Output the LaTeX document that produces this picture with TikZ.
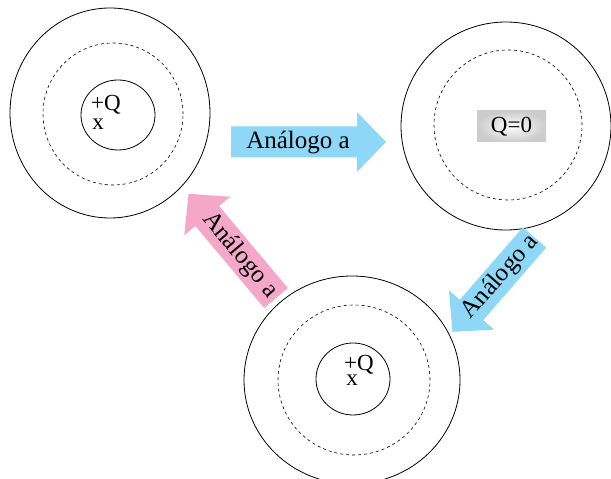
\documentclass[tikz,border=0pt]{standalone}
\usepackage{fontspec}
\setmainfont{Liberation Serif}
\usetikzlibrary{shapes.geometric}
\definecolor{arrblue}{RGB}{143,215,246}
\definecolor{arrpink}{RGB}{244,167,200}
\tikzset{
  ring/.style={ellipse, draw=black, line width=0.8pt, inner sep=0pt},
  dashring/.style={ellipse, draw=black, dashed, line width=0.6pt, inner sep=0pt},
  lbl/.style={font=\fontsize{23}{23}\selectfont, inner sep=0pt},
  arrlbl/.style={font=\fontsize{25}{25}\selectfont, inner sep=0pt},
}
\newcommand{\fatarrow}[4]{% tail, angle, length, color
  \begin{scope}[shift={#1}, rotate=#2]
    \fill[#4] (0,-15.5) -- (#3-29,-15.5) -- (#3-29,-30) -- (#3,0) -- (#3-29,30) -- (#3-29,15.5) -- (0,15.5) -- cycle;
  \end{scope}
}
\begin{document}
\begin{tikzpicture}[x=1pt,y=1pt]
\useasboundingbox (0,0) rectangle (611,479);
\clip (0,0) rectangle (611,479);
% top-left
\node[ring, minimum width=200, minimum height=210] (tlout) at (110,366) {};
\node[dashring, minimum width=140, minimum height=142] (tldash) at (113,365) {};
\node[ring, minimum width=74, minimum height=70] (tlin) at (118,364) {};
\node[lbl] (tlq) at (106,374) {+Q};
\node[lbl] (tlx) at (98,355) {x};
% top-right
\node[ring, minimum width=210, minimum height=208] (trout) at (506,353) {};
\node[dashring, minimum width=148, minimum height=150] (trdash) at (508,354) {};
\node[minimum width=69, minimum height=31, inner sep=0pt, inner color=white, outer color=black!20, font=\fontsize{23}{23}\selectfont] (trq) at (511.5,352.5) {Q=0};
% bottom
\node[ring, minimum width=216, minimum height=208] (bout) at (352,99) {};
\node[dashring, minimum width=152, minimum height=150] (bdash) at (354,99) {};
\node[ring, minimum width=74, minimum height=72] (bin) at (353,100) {};
\node[lbl] (bq) at (359,114) {+Q};
\node[lbl] (bx) at (352,99) {x};
% arrows
\fatarrow{(231,337)}{0}{155}{arrblue}
\node[arrlbl] (a1) at (298,336) {Análogo a};
\fatarrow{(276,181)}{130}{136}{arrpink}
\begin{scope}[shift={(276,181)}, rotate=130]
  \node[arrlbl, rotate=-50] (a2) at (56,0) {Análogo a};
\end{scope}
\fatarrow{(534.5,241.5)}{229}{125}{arrblue}
\begin{scope}[shift={(534.5,241.5)}, rotate=229]
  \node[arrlbl, rotate=49] (a3) at (52,0) {Análogo a};
\end{scope}
\end{tikzpicture}
\end{document}
